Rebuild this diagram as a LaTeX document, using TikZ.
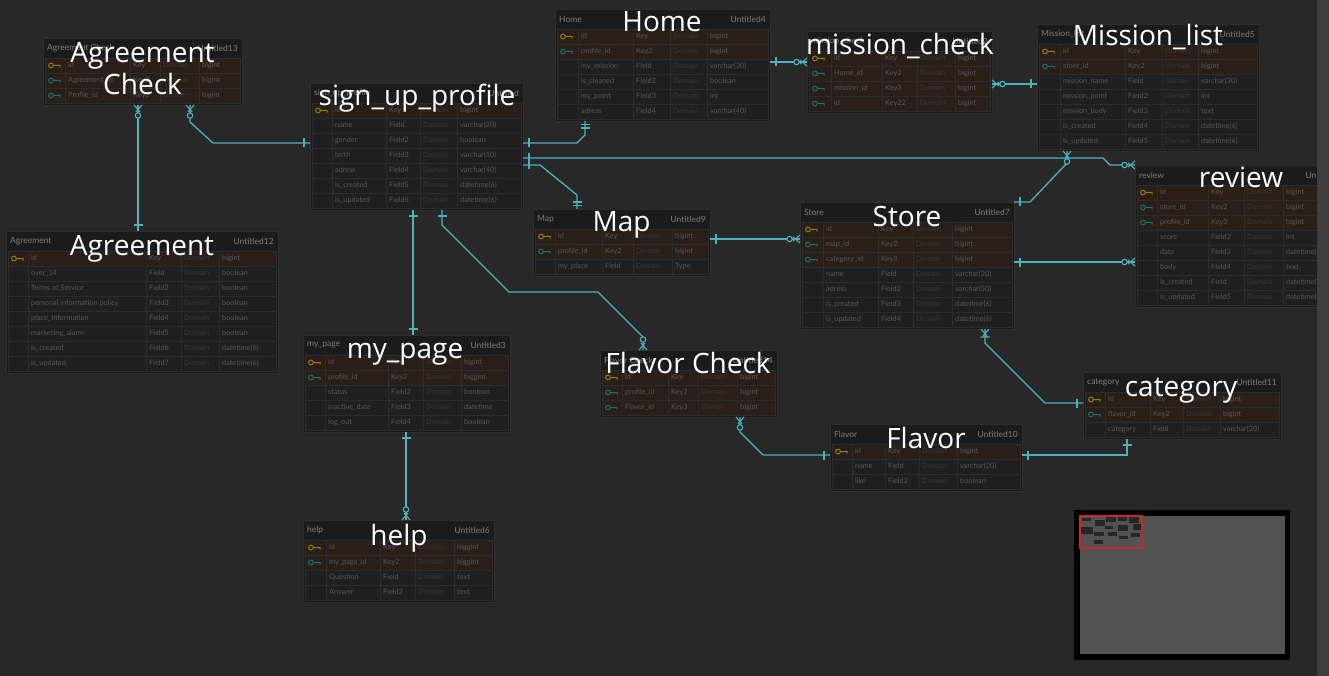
\documentclass[tikz,border=0pt]{standalone}
\usepackage{fontspec}
\setmainfont{Lato}
\newfontfamily\labelfont{Open Sans}
\usetikzlibrary{decorations.markings}
\definecolor{erd_bg}{RGB}{40,40,40}
\definecolor{erd_strip}{RGB}{62,62,62}
\definecolor{erd_head}{RGB}{27,27,27}
\definecolor{erd_edge}{RGB}{46,46,46}
\definecolor{erd_field}{RGB}{31,31,31}
\definecolor{erd_key}{RGB}{42,31,24}
\definecolor{erd_grid}{RGB}{44,44,44}
\definecolor{erd_txt}{RGB}{88,88,88}
\definecolor{erd_htxt}{RGB}{125,125,125}
\definecolor{erd_dom}{RGB}{56,56,56}
\definecolor{erd_yel}{RGB}{150,125,15}
\definecolor{erd_teal}{RGB}{20,115,120}
\definecolor{erd_line}{RGB}{78,178,190}
\definecolor{erd_mini}{RGB}{82,82,82}
\definecolor{erd_red}{RGB}{200,40,45}
\tikzstyle{tblbox}=[rectangle,fill=erd_head,draw=erd_edge,line width=0.6pt,inner sep=0pt]
\tikzstyle{headtxt}=[text=erd_htxt,font=\fontsize{8.5}{10}\selectfont,inner sep=0pt]
\tikzstyle{rowtxt}=[text=erd_txt,font=\fontsize{7.3}{9}\selectfont,inner sep=0pt,
  anchor=west,text height=5.3pt,text depth=1.5pt]
\tikzstyle{domtxt}=[rowtxt,text=erd_dom]
\tikzstyle{cell}=[draw=erd_grid,line width=0.6pt]
\tikzstyle{biglabel}=[text=white,font=\labelfont\fontsize{28}{32}\selectfont,
  inner sep=0pt,anchor=base,align=center]
\tikzstyle{rel}=[draw=erd_line,line width=1.3pt]
% relation end marks, drawn with +x pointing away from the table
\newcommand{\mkone}{\draw[erd_line,line width=1.1pt] (6,-4.5) -- (6,4.5);}
\newcommand{\mktwo}{\draw[erd_line,line width=1.1pt] (3.5,-4.5) -- (3.5,4.5) (7,-4.5) -- (7,4.5);}
\newcommand{\mkmany}{\draw[erd_line,line width=1.1pt] (0,-4) -- (7,2) (0,4) -- (7,-2);
  \draw[erd_line,line width=1.1pt,fill=erd_bg] (10.5,0) circle (2.7pt);}
\newcommand{\mkcrow}{\draw[erd_line,line width=1.1pt] (0,-4) -- (7,2) (0,4) -- (7,-2) (8,-4.5) -- (8,4.5);}
\tikzstyle{sone}=[postaction={decorate,decoration={markings,mark=at position 0 with {\mkone}}}]
\tikzstyle{eone}=[postaction={decorate,decoration={markings,mark=at position 1 with
  {\begin{scope}[xscale=-1]\mkone\end{scope}}}}]
\tikzstyle{etwo}=[postaction={decorate,decoration={markings,mark=at position 1 with
  {\begin{scope}[xscale=-1]\mktwo\end{scope}}}}]
\tikzstyle{smany}=[postaction={decorate,decoration={markings,mark=at position 0 with {\mkmany}}}]
\tikzstyle{emany}=[postaction={decorate,decoration={markings,mark=at position 1 with
  {\begin{scope}[xscale=-1]\mkmany\end{scope}}}}]
\tikzstyle{scrow}=[postaction={decorate,decoration={markings,mark=at position 0 with {\mkcrow}}}]
% table frame: name, left, top, right, rows, title, untitled
\newcommand{\erdhead}[7]{%
  \node[tblbox,anchor=north west,minimum width={#4-#2},minimum height={22+15*#5}] (#1) at (#2,#3) {};
  \node[headtxt,anchor=west] (#1-title) at (#2+4,#3+10) {#6};
  \node[headtxt,anchor=east] (#1-untitled) at (#4-4,#3+10) {#7};
}
% table rows: name, left, top, right, four column edges, rows (kind 1 pk, 2 fk, 0 field)
\newcommand{\erdrows}[9]{%
  \foreach \nm/\ky/\ty/\kd [count=\i] in {#9} {
    \pgfmathsetmacro{\ya}{#3+20+15*(\i-1)}
    \pgfmathsetmacro{\yb}{\ya+15}
    \pgfmathsetmacro{\yc}{\ya+7.5}
    \ifnum\kd=0\relax\def\rowcol{erd_field}\else\def\rowcol{erd_key}\fi
    \foreach \xl/\xr in {#2+2/#5,#5/#6,#6/#7,#7/#8,#8/#4-2}
      \path[cell,fill=\rowcol] (\xl,\ya) rectangle (\xr,\yb);
    \ifnum\kd=1\relax\def\keycol{erd_yel}\fi
    \ifnum\kd=2\relax\def\keycol{erd_teal}\fi
    \ifnum\kd>0\relax
      \draw[draw=\keycol,line width=1pt] (#2+8,\yc) circle (2.4pt)
        (#2+10.4,\yc) -- (#2+17,\yc) -- (#2+17,\yc+2.2);
    \fi
    \node[rowtxt] (#1-\i-name) at (#5+3,\yc) {\nm};
    \node[rowtxt] (#1-\i-key) at (#6+3,\yc) {\ky};
    \node[domtxt] (#1-\i-dom) at (#7+3,\yc) {Domain};
    \node[rowtxt] (#1-\i-type) at (#8+3,\yc) {\ty};
  }
}

\begin{document}
\begin{tikzpicture}[x=1pt,y=-1pt]
    \useasboundingbox (0,0) rectangle (1329,676);
    \fill[erd_bg] (0,0) rectangle (1329,676);

    % tables
    \erdhead{agrcheck}{43}{38}{242}{3}{Agreement Check}{Untitled13}
    \erdrows{agrcheck}{43}{38}{242}{65}{130}{160}{199}{id/Key/bigint/1,
      Agreement\_id/Key2/bigint/2, Profile\_id/Key3/bigint/2}
    \erdhead{agreement}{6}{231}{278}{8}{Agreement}{Untitled12}
    \erdrows{agreement}{6}{231}{278}{28}{146}{181}{219}{id/Key/bigint/1,
      over\_14/Field/boolean/0, Terms of Service/Field2/boolean/0,
      personal information policy/Field3/boolean/0, place\_Information/Field4/boolean/0,
      marketing\_alarm/Field5/boolean/0, is\_created/Field6/datetime(6)/0,
      is\_updated/Field7/datetime(6)/0}
    \erdhead{signup}{310}{83}{523}{7}{sign\_up\_profile}{Untitled}
    \erdrows{signup}{310}{83}{523}{332}{386}{420}{457}{id/Key/bigint/1,
      name/Field/varchar(20)/0, gender/Field2/boolean/0, birth/Field3/varchar(10)/0,
      adress/Field4/varchar(40)/0, is\_created/Field5/datetime(6)/0,
      is\_updated/Field6/datetime(6)/0}
    \erdhead{home}{555}{9}{770}{6}{Home}{Untitled4}
    \erdrows{home}{555}{9}{770}{578}{633}{670}{707}{id/Key/bigint/1,
      profile\_id/Key2/bigint/2, my\_mission/Field/varchar(30)/0,
      is\_cleaned/Field2/boolean/0, my\_point/Field3/int/0, adress/Field4/varchar(40)/0}
    \erdhead{mcheck}{807}{31}{992}{4}{mission\_check}{Untitled2}
    \erdrows{mcheck}{807}{31}{992}{831}{882}{917}{955}{id/Key/bigint/1,
      Home\_id/Key2/bigint/2, mission\_id/Key3/bigint/2, id/Key22/bigint/2}
    \erdhead{mlist}{1037}{24}{1259}{7}{Mission\_list}{Untitled5}
    \erdrows{mlist}{1037}{24}{1259}{1060}{1125}{1162}{1198}{id/Key/bigint/1,
      store\_id/Key2/bigint/2, mission\_name/Field/varchar(30)/0,
      mission\_point/Field2/int/0, mission\_body/Field3/text/0,
      is\_created/Field4/datetime(6)/0, is\_updated/Field5/datetime(6)/0}
    \erdhead{map}{533}{209}{710}{3}{Map}{Untitled9}
    \erdrows{map}{533}{209}{710}{555}{602}{633}{672}{id/Key/bigint/1,
      profile\_id/Key2/bigint/2, my\_place/Field/Type/0}
    \erdhead{store}{800}{202}{1014}{7}{Store}{Untitled7}
    \erdrows{store}{800}{202}{1014}{823}{878}{913}{952}{id/Key/bigint/1,
      map\_id/Key2/bigint/2, category\_id/Key3/bigint/2, name/Field/varchar(20)/0,
      adress/Field2/varchar(50)/0, is\_created/Field3/datetime(6)/0,
      is\_updated/Field4/datetime(6)/0}
    \begin{scope}
      \clip (0,0) rectangle (1317,676);
      \erdhead{review}{1135}{165}{1345}{8}{review}{Untitled8}
      \erdrows{review}{1135}{165}{1345}{1157}{1208}{1244}{1283}{id/Key/bigint/1,
        store\_id/Key2/bigint/2, profile\_id/Key3/bigint/2, score/Field2/int/0,
        date/Field3/datetime(6)/0, body/Field4/text/0, is\_created/Field/datetime(6)/0,
        is\_updated/Field5/datetime(6)/0}
    \end{scope}
    \erdhead{category}{1083}{372}{1281}{3}{category}{Untitled11}
    \erdrows{category}{1083}{372}{1281}{1105}{1150}{1183}{1220}{id/Key/bigint/1,
      flavor\_id/Key2/bigint/2, category/Field/varchar(20)/0}
    \erdhead{mypage}{303}{335}{510}{5}{my\_page}{Untitled3}
    \erdrows{mypage}{303}{335}{510}{325}{388}{423}{461}{id/Key/bigint/1,
      profile\_id/Key2/biggint/2, status/Field2/boolean/0,
      inactive\_date/Field3/datetime/0, log\_out/Field4/boolean/0}
    \erdhead{fcheck}{600}{350}{777}{3}{Flavor Check}{Untitled14}
    \erdrows{fcheck}{600}{350}{777}{622}{668}{698}{737}{id/Key/bigint/1,
      profile\_id/Key2/bigint/2, Flavor\_id/Key3/bigint/2}
    \erdhead{flavor}{830}{424}{1022}{3}{Flavor}{Untitled10}
    \erdrows{flavor}{830}{424}{1022}{852}{885}{919}{957}{id/Key/bigint/1,
      name/Field/varchar(20)/0, like/Field2/boolean/0}
    \erdhead{help}{303}{520}{494}{4}{help}{Untitled6}
    \erdrows{help}{303}{520}{494}{326}{380}{415}{454}{id/Key/biggint/1,
      my\_page\_id/Key2/biggint/2, Question/Field/text/0, Answer/Field2/text/0}

    % connector ends
    \coordinate (agrcheck-b1) at (138,105);
    \coordinate (agrcheck-b2) at (190,105);
    \coordinate (agreement-t1) at (138,231);
    \coordinate (signup-l1) at (310,143);
    \coordinate (signup-r1) at (523,143);
    \coordinate (signup-r2) at (523,158);
    \coordinate (signup-r3) at (523,165);
    \coordinate (signup-b1) at (413,210);
    \coordinate (signup-b2) at (442,210);
    \coordinate (home-b1) at (585,121);
    \coordinate (home-r1) at (770,62);
    \coordinate (mcheck-l1) at (807,62);
    \coordinate (mcheck-r1) at (992,84);
    \coordinate (mlist-l1) at (1037,84);
    \coordinate (mlist-b1) at (1067,151);
    \coordinate (review-l1) at (1135,165);
    \coordinate (review-l2) at (1135,262);
    \coordinate (map-t1) at (577,209);
    \coordinate (map-r1) at (710,239);
    \coordinate (store-l1) at (800,239);
    \coordinate (store-r1) at (1014,202);
    \coordinate (store-r2) at (1014,262);
    \coordinate (store-b1) at (985,329);
    \coordinate (category-l1) at (1083,403);
    \coordinate (category-b1) at (1127,439);
    \coordinate (mypage-t1) at (413,335);
    \coordinate (mypage-b1) at (406,432);
    \coordinate (help-t1) at (406,520);
    \coordinate (fcheck-t1) at (643,350);
    \coordinate (fcheck-b1) at (740,417);
    \coordinate (flavor-l1) at (830,455);
    \coordinate (flavor-r1) at (1022,455);

    % connectors
    \draw[rel,smany,eone] (agrcheck-b1) -- (agreement-t1);
    \draw[rel,smany,eone] (agrcheck-b2) -- (190,122) -- (213,143) -- (signup-l1);
    \draw[rel,sone,etwo] (signup-r1) -- (577,143) -- (585,135) -- (home-b1);
    \draw[rel,sone,emany] (signup-r2) -- (1103,158) -- (1110,165) -- (review-l1);
    \draw[rel,sone,etwo] (signup-r3) -- (540,165) -- (577,195) -- (map-t1);
    \draw[rel,sone,eone] (signup-b1) -- (mypage-t1);
    \draw[rel,sone,emany] (signup-b2) -- (442,225) -- (509,292) -- (598,292)
      -- (643,337) -- (fcheck-t1);
    \draw[rel,sone,emany] (home-r1) -- (mcheck-l1);
    \draw[rel,smany,eone] (mcheck-r1) -- (mlist-l1);
    \draw[rel,smany,eone] (mlist-b1) -- (1067,163) -- (1030,202) -- (store-r1);
    \draw[rel,sone,emany] (map-r1) -- (store-l1);
    \draw[rel,sone,emany] (store-r2) -- (review-l2);
    \draw[rel,scrow,eone] (store-b1) -- (985,343) -- (1045,403) -- (category-l1);
    \draw[rel,smany,eone] (fcheck-b1) -- (740,432) -- (763,455) -- (flavor-l1);
    \draw[rel,sone,eone] (flavor-r1) -- (1127,455) -- (category-b1);
    \draw[rel,sone,emany] (mypage-b1) -- (help-t1);

    % big labels
    \node[biglabel,anchor=center] (agrcheck-label) at (142.5,69) {Agreement\\Check};
    \node[biglabel] (agreement-label) at (142,255) {Agreement};
    \node[biglabel] (signup-label) at (417,106) {sign\_up\_profile};
    \node[biglabel] (home-label) at (662,32) {Home};
    \node[biglabel] (mcheck-label) at (900,55) {mission\_check};
    \node[biglabel] (mlist-label) at (1148,46) {Mission\_list};
    \node[biglabel] (map-label) at (621.5,232) {Map};
    \node[biglabel] (store-label) at (907,226) {Store};
    \node[biglabel] (review-label) at (1241,188) {review};
    \node[biglabel] (category-label) at (1181,396) {category};
    \node[biglabel] (mypage-label) at (405,358) {my\_page};
    \node[biglabel] (fcheck-label) at (688,373) {Flavor Check};
    \node[biglabel] (flavor-label) at (926,448) {Flavor};
    \node[biglabel] (help-label) at (399,545) {help};

    % overview map
    \fill[black] (1074,510) rectangle (1290,660);
    \fill[erd_mini] (1080,516) rectangle (1285,654);
    \foreach \l/\t/\r/\b in {43/38/242/105, 6/231/278/373, 310/83/523/210,
        555/9/770/121, 807/31/992/113, 1037/24/1259/151, 533/209/710/276,
        800/202/1014/329, 1135/165/1345/307, 1083/372/1281/439, 303/335/510/432,
        600/350/777/417, 830/424/1022/491, 303/520/494/602}
      \fill[black!85] (1080+0.047*\l,516+0.047*\t) rectangle (1080+0.047*\r,516+0.047*\b);
    \draw[erd_red,line width=1.3pt] (1080,516) rectangle (1142,548);

    % side strip
    \fill[erd_strip] (1317,0) rectangle (1329,676);
\end{tikzpicture}
\end{document}
